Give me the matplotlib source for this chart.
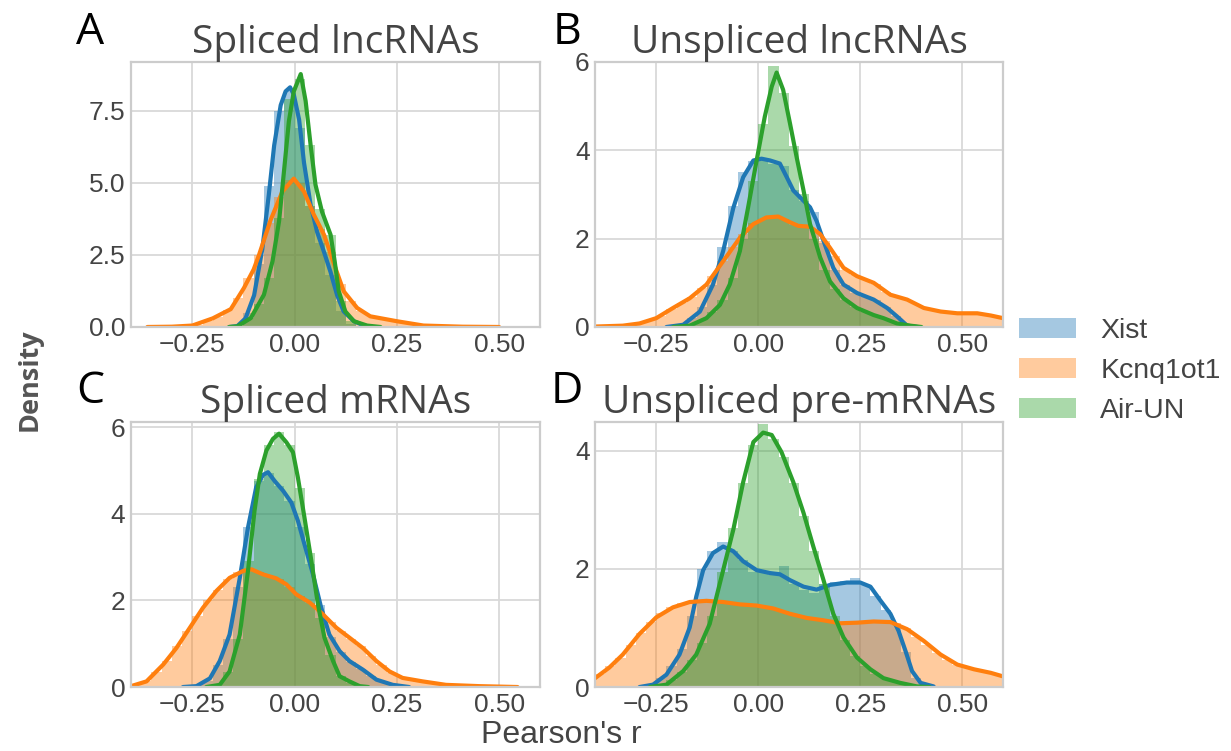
import numpy as np
import matplotlib
matplotlib.use('Agg')
import matplotlib.pyplot as plt

# shared histogram bins (Pearson's r)
bin_edges = np.linspace(-0.4, 0.6, 41)

series_names = ['Xist', 'Kcnq1ot1', 'Air-UN']
series_colors = ['#1f77b4', '#ff7f0e', '#2ca02c']
panel_titles = ['Spliced lncRNAs', 'Unspliced lncRNAs', 'Spliced mRNAs', 'Unspliced pre-mRNAs']
panel_letters = ['A', 'B', 'C', 'D']
panel_ylims = [9.2, 6.0, 6.12, 4.49]
panel_yticks = [[0, 2.5, 5.0, 7.5], [0, 2, 4, 6], [0, 2, 4, 6], [0, 2, 4]]

# ---- A: Spliced lncRNAs ----
a_xist_hist = [0, 0, 0, 0, 0, 0, 0, 0, 0, 0, 0.05, 0.5, 2.2, 4.9, 7.5, 8.2, 6.9, 4.2, 2.9, 1.8,
               0.55, 0.12, 0.02, 0, 0, 0, 0, 0, 0, 0, 0, 0, 0, 0, 0, 0, 0, 0, 0, 0]
a_kcnq_hist = [0, 0, 0.01, 0.01, 0.02, 0.04, 0.08, 0.2, 0.35, 0.6, 1.0, 1.7, 2.5, 3.6, 4.5, 5.1, 5.0, 4.2, 3.4, 2.6,
               1.5, 0.9, 0.55, 0.37, 0.28, 0.22, 0.17, 0.1, 0.06, 0.04, 0.02, 0.02, 0.01, 0.01, 0, 0, 0, 0, 0, 0]
a_air_hist = [0, 0, 0, 0, 0, 0, 0, 0, 0, 0, 0.05, 0.3, 0.8, 1.7, 3.8, 7.9, 8.6, 6.3, 4.1, 3.2,
              0.9, 0.2, 0.05, 0.02, 0, 0, 0, 0, 0, 0, 0, 0, 0, 0, 0, 0, 0, 0, 0, 0]
a_xist_kde_x = [-0.16, -0.14, -0.12, -0.099, -0.079, -0.063, -0.05, -0.034, -0.022, -0.011, -0.002, 0.011,
                0.023, 0.039, 0.055, 0.072, 0.088, 0.104, 0.12, 0.145, 0.169, 0.19]
a_xist_kde_y = [0, 0.03, 0.3, 1.1, 2.7, 4.6, 6.3, 7.7, 8.18, 8.32, 8.07, 7.2,
                5.7, 4.25, 3.3, 2.6, 1.9, 1.1, 0.54, 0.2, 0.05, 0]
a_kcnq_kde_x = [-0.36, -0.3, -0.25, -0.2, -0.156, -0.124, -0.1, -0.087, -0.059, -0.03, -0.002, 0.023,
                0.047, 0.072, 0.096, 0.12, 0.153, 0.185, 0.25, 0.315, 0.41, 0.5]
a_kcnq_kde_y = [0, 0.01, 0.05, 0.3, 0.62, 1.35, 2.0, 2.5, 3.7, 4.7, 5.15, 4.7,
                3.9, 3.2, 2.2, 1.24, 0.66, 0.37, 0.2, 0.05, 0.01, 0]
a_air_kde_x = [-0.16, -0.14, -0.107, -0.075, -0.054, -0.038, -0.026, -0.014, -0.002, 0.015, 0.027, 0.039,
               0.051, 0.067, 0.088, 0.098, 0.108, 0.124, 0.145, 0.177, 0.21]
a_air_kde_y = [0, 0.02, 0.31, 1.12, 2.28, 3.67, 5.4, 7.14, 8.18, 8.78, 7.84, 6.33,
               4.94, 4.0, 3.2, 2.28, 1.24, 0.54, 0.2, 0.05, 0]

# ---- B: Unspliced lncRNAs ----
b_xist_hist = [0, 0, 0, 0, 0, 0, 0, 0.02, 0.05, 0.2, 0.45, 0.95, 1.8, 2.75, 3.5, 3.75, 3.8, 3.7, 3.65, 3.1,
               2.85, 2.6, 1.9, 1.3, 0.95, 0.78, 0.68, 0.6, 0.45, 0.26, 0.06, 0.01, 0, 0, 0, 0, 0, 0, 0, 0]
b_kcnq_hist = [0.01, 0.02, 0.03, 0.05, 0.09, 0.15, 0.25, 0.4, 0.55, 0.68, 0.88, 1.15, 1.5, 1.8, 2.1, 2.35, 2.45, 2.5, 2.45, 2.3,
               2.3, 2.2, 1.95, 1.6, 1.3, 1.17, 1.08, 0.98, 0.8, 0.68, 0.62, 0.52, 0.42, 0.37, 0.33, 0.31, 0.31, 0.3, 0.27, 0.22]
b_air_hist = [0, 0, 0, 0, 0, 0, 0, 0, 0.02, 0.05, 0.15, 0.35, 0.6, 1.1, 2.0, 3.3, 4.6, 5.9, 5.3, 4.1,
              3.0, 2.0, 1.3, 0.85, 0.62, 0.45, 0.33, 0.26, 0.18, 0.09, 0.04, 0.01, 0, 0, 0, 0, 0, 0, 0, 0]
b_xist_kde_x = [-0.225, -0.184, -0.143, -0.111, -0.086, -0.061, -0.037, -0.012, 0.008, 0.029, 0.053, 0.07,
                0.086, 0.102, 0.127, 0.143, 0.16, 0.184, 0.209, 0.242, 0.283, 0.316, 0.34, 0.365, 0.39]
b_xist_kde_y = [0, 0.05, 0.35, 0.96, 1.72, 2.7, 3.39, 3.77, 3.81, 3.77, 3.7, 3.39,
                3.09, 2.94, 2.71, 2.4, 1.95, 1.34, 0.96, 0.77, 0.62, 0.43, 0.24, 0.03, 0]
b_kcnq_kde_x = [-0.4, -0.332, -0.291, -0.25, -0.209, -0.168, -0.127, -0.086, -0.045, -0.012, 0.02, 0.049,
                0.078, 0.098, 0.127, 0.152, 0.176, 0.209, 0.242, 0.283, 0.324, 0.365, 0.406, 0.447, 0.488,
                0.537, 0.57, 0.6]
b_kcnq_kde_y = [0.01, 0.03, 0.08, 0.2, 0.43, 0.65, 0.96, 1.49, 2.02, 2.33, 2.48, 2.5,
                2.37, 2.29, 2.27, 2.1, 1.79, 1.34, 1.15, 1.0, 0.73, 0.62, 0.43, 0.35, 0.31,
                0.31, 0.26, 0.2]
b_air_kde_x = [-0.209, -0.168, -0.127, -0.094, -0.07, -0.045, -0.025, -0.004, 0.016, 0.033, 0.045, 0.061,
               0.078, 0.094, 0.111, 0.127, 0.152, 0.176, 0.209, 0.242, 0.283, 0.307, 0.34, 0.373, 0.4]
b_air_kde_y = [0, 0.03, 0.2, 0.5, 0.96, 1.72, 2.7, 3.77, 4.76, 5.44, 5.76, 5.37,
               4.6, 3.85, 3.09, 2.33, 1.57, 1.03, 0.65, 0.43, 0.27, 0.2, 0.08, 0.03, 0]

# ---- C: Spliced mRNAs ----
c_xist_hist = [0, 0, 0, 0, 0, 0.01, 0.04, 0.15, 0.5, 1.1, 2.3, 3.7, 4.75, 4.95, 4.65, 4.3, 3.7, 2.85, 1.9, 1.15,
               0.8, 0.58, 0.42, 0.25, 0.13, 0.05, 0.02, 0, 0, 0, 0, 0, 0, 0, 0, 0, 0, 0, 0, 0]
c_kcnq_hist = [0.05, 0.15, 0.35, 0.6, 0.95, 1.3, 1.65, 2.0, 2.25, 2.5, 2.65, 2.72, 2.65, 2.55, 2.5, 2.3, 2.1, 1.95, 1.75, 1.5,
               1.3, 1.12, 0.95, 0.72, 0.5, 0.33, 0.22, 0.16, 0.12, 0.08, 0.05, 0.04, 0.03, 0.02, 0.01, 0.01, 0.01, 0, 0, 0]
c_air_hist = [0, 0, 0, 0, 0, 0, 0, 0.01, 0.06, 0.35, 1.1, 2.9, 4.8, 5.6, 5.9, 5.6, 4.6, 3.1, 1.6, 0.75,
              0.25, 0.1, 0.03, 0, 0, 0, 0, 0, 0, 0, 0, 0, 0, 0, 0, 0, 0, 0, 0, 0]
c_xist_kde_x = [-0.273, -0.24, -0.207, -0.183, -0.159, -0.134, -0.114, -0.094, -0.077, -0.065, -0.049, -0.028,
                -0.008, 0.008, 0.024, 0.045, 0.065, 0.085, 0.11, 0.134, 0.167, 0.2, 0.24, 0.28]
c_xist_kde_y = [0, 0.02, 0.2, 0.6, 1.21, 2.52, 3.68, 4.61, 4.9, 4.96, 4.76, 4.53,
                4.26, 3.84, 3.3, 2.6, 1.83, 1.21, 0.83, 0.6, 0.4, 0.17, 0.05, 0]
c_kcnq_kde_x = [-0.4, -0.362, -0.321, -0.289, -0.256, -0.224, -0.191, -0.159, -0.126, -0.106, -0.077, -0.045,
                -0.02, 0.004, 0.037, 0.069, 0.102, 0.134, 0.167, 0.2, 0.232, 0.264, 0.313, 0.37, 0.452, 0.545]
c_kcnq_kde_y = [0.02, 0.13, 0.52, 0.9, 1.37, 1.83, 2.22, 2.52, 2.68, 2.72, 2.6, 2.51,
                2.37, 2.14, 1.95, 1.68, 1.37, 1.14, 0.9, 0.6, 0.36, 0.21, 0.13, 0.05, 0.02, 0]
c_air_kde_x = [-0.216, -0.183, -0.159, -0.134, -0.114, -0.098, -0.085, -0.069, -0.053, -0.038, -0.02, -0.004,
               0.008, 0.024, 0.041, 0.057, 0.073, 0.094, 0.11, 0.134, 0.159, 0.18]
c_air_kde_y = [0, 0.05, 0.36, 1.21, 2.68, 4.07, 4.92, 5.46, 5.73, 5.85, 5.65, 5.42,
               4.84, 3.92, 2.91, 1.91, 1.14, 0.6, 0.25, 0.13, 0.02, 0]

# ---- D: Unspliced pre-mRNAs ----
d_xist_hist = [0, 0, 0, 0, 0.01, 0.04, 0.15, 0.35, 0.65, 1.2, 2.0, 2.3, 2.45, 2.3, 2.15, 1.95, 1.95, 1.9, 2.05, 1.75,
               1.65, 1.6, 1.75, 1.78, 1.8, 1.85, 1.72, 1.55, 1.3, 1.05, 0.6, 0.15, 0.03, 0, 0, 0, 0, 0, 0, 0]
d_kcnq_hist = [0.22, 0.35, 0.5, 0.72, 0.92, 1.1, 1.25, 1.35, 1.42, 1.45, 1.47, 1.45, 1.43, 1.42, 1.4, 1.38, 1.37, 1.33, 1.28, 1.22,
               1.18, 1.15, 1.13, 1.1, 1.08, 1.1, 1.1, 1.12, 1.1, 1.08, 1.0, 0.85, 0.72, 0.58, 0.45, 0.38, 0.32, 0.28, 0.24, 0.2]
d_air_hist = [0, 0, 0, 0, 0, 0.01, 0.03, 0.12, 0.25, 0.45, 0.75, 1.2, 1.95, 2.7, 3.45, 4.1, 4.45, 4.2, 3.9, 3.45,
              2.9, 2.3, 1.75, 1.2, 0.8, 0.52, 0.35, 0.22, 0.13, 0.08, 0.04, 0.01, 0, 0, 0, 0, 0, 0, 0, 0]
d_xist_kde_x = [-0.291, -0.258, -0.225, -0.193, -0.168, -0.152, -0.135, -0.111, -0.086, -0.061, -0.037, -0.004,
                0.029, 0.053, 0.078, 0.111, 0.143, 0.176, 0.217, 0.25, 0.275, 0.299, 0.324, 0.344, 0.361,
                0.377, 0.398, 0.43]
d_xist_kde_y = [0, 0.04, 0.21, 0.55, 1.01, 1.53, 1.98, 2.27, 2.38, 2.3, 2.13, 1.98,
                1.93, 1.91, 1.81, 1.7, 1.65, 1.73, 1.77, 1.77, 1.7, 1.47, 1.24, 0.95, 0.61,
                0.27, 0.07, 0.01]
d_kcnq_kde_x = [-0.4, -0.365, -0.332, -0.291, -0.25, -0.209, -0.168, -0.127, -0.086, -0.045, -0.004, 0.037,
                0.078, 0.119, 0.16, 0.201, 0.242, 0.283, 0.324, 0.365, 0.406, 0.447, 0.488, 0.529, 0.57, 0.6]
d_kcnq_kde_y = [0.15, 0.33, 0.55, 0.9, 1.18, 1.35, 1.44, 1.46, 1.44, 1.4, 1.38, 1.33,
                1.24, 1.17, 1.13, 1.08, 1.09, 1.11, 1.1, 0.98, 0.78, 0.55, 0.38, 0.3, 0.24, 0.18]
d_air_kde_x = [-0.266, -0.225, -0.184, -0.152, -0.119, -0.086, -0.061, -0.037, -0.012, 0.012, 0.033, 0.057,
               0.086, 0.111, 0.135, 0.16, 0.184, 0.209, 0.242, 0.275, 0.307, 0.348, 0.389, 0.42]
d_air_kde_y = [0, 0.04, 0.27, 0.55, 1.07, 1.98, 2.67, 3.47, 4.15, 4.31, 4.27, 3.98,
               3.47, 2.95, 2.38, 1.81, 1.24, 0.84, 0.5, 0.3, 0.15, 0.07, 0.01, 0]

panel_hists = [
    [a_xist_hist, a_kcnq_hist, a_air_hist],
    [b_xist_hist, b_kcnq_hist, b_air_hist],
    [c_xist_hist, c_kcnq_hist, c_air_hist],
    [d_xist_hist, d_kcnq_hist, d_air_hist],
]
panel_kdes = [
    [(a_xist_kde_x, a_xist_kde_y), (a_kcnq_kde_x, a_kcnq_kde_y), (a_air_kde_x, a_air_kde_y)],
    [(b_xist_kde_x, b_xist_kde_y), (b_kcnq_kde_x, b_kcnq_kde_y), (b_air_kde_x, b_air_kde_y)],
    [(c_xist_kde_x, c_xist_kde_y), (c_kcnq_kde_x, c_kcnq_kde_y), (c_air_kde_x, c_air_kde_y)],
    [(d_xist_kde_x, d_xist_kde_y), (d_kcnq_kde_x, d_kcnq_kde_y), (d_air_kde_x, d_air_kde_y)],
]

TEXT_GRAY = '#444444'
plt.rcParams['font.family'] = ['Liberation Sans', 'DejaVu Sans']

fig = plt.figure(figsize=(12.31, 7.51), dpi=100)

# axes rectangles in figure fractions
ax_rects = [
    [0.1064, 0.5646, 0.3323, 0.3529],
    [0.4834, 0.5646, 0.3314, 0.3529],
    [0.1064, 0.0852, 0.3323, 0.3529],
    [0.4834, 0.0852, 0.3314, 0.3529],
]
letter_pos = [(0.0731, 0.956), (0.4606, 0.956), (0.0731, 0.478), (0.4606, 0.478)]

widths = np.diff(bin_edges)
legend_handles = None
for p in range(4):
    ax = fig.add_axes(ax_rects[p])
    ax.set_axisbelow(True)
    ax.grid(True, color='#d9d9d9', linewidth=1.3)
    for s in ax.spines.values():
        s.set_color('#cccccc')
        s.set_linewidth(1.6)
    handles = []
    for k in range(3):
        bars = ax.bar(bin_edges[:-1], panel_hists[p][k], width=widths, align='edge',
                      color=series_colors[k], alpha=0.4, linewidth=0, label=series_names[k])
        handles.append(bars)
        kx, ky = panel_kdes[p][k]
        ax.plot(kx, ky, color=series_colors[k], linewidth=3.0, solid_joinstyle='round',
                solid_capstyle='round')
    if legend_handles is None:
        legend_handles = handles
    ax.set_xlim(-0.4, 0.6)
    ax.set_ylim(0, panel_ylims[p])
    ax.set_xticks([-0.25, 0.0, 0.25, 0.5])
    ax.set_yticks(panel_yticks[p])
    ax.tick_params(length=0, labelsize=19, labelcolor=TEXT_GRAY, pad=4)
    ax.set_title(panel_titles[p], fontsize=28, color=TEXT_GRAY, family='Open Sans', pad=5)
    fig.text(letter_pos[p][0], letter_pos[p][1], panel_letters[p], fontsize=32,
             family='Open Sans', color='black', ha='center', va='center')

fig.legend(legend_handles, series_names, loc='center left', bbox_to_anchor=(0.8278, 0.506),
           frameon=False, fontsize=20.5, handlelength=2.0, handleheight=0.7,
           handletextpad=0.85, labelspacing=0.5, borderpad=0, borderaxespad=0,
           labelcolor=TEXT_GRAY)

fig.text(0.0244, 0.494, 'Density', rotation=90, fontsize=19.5, fontweight='bold',
         family='Open Sans', color='#555555', ha='center', va='center')
fig.text(0.4557, 0.0213, "Pearson's r", fontsize=23, color=TEXT_GRAY, ha='center', va='center')

fig.savefig('out.png', dpi=100)
